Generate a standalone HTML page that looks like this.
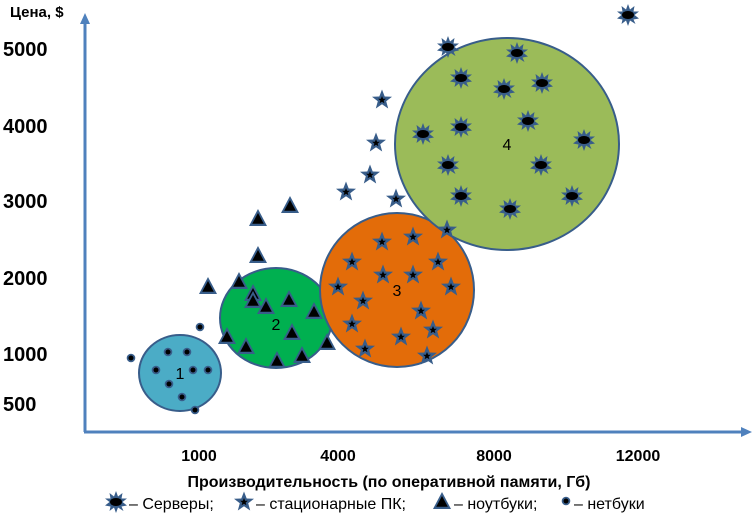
<!DOCTYPE html>
<html><head><meta charset="utf-8"><style>
body{margin:0;background:#fff}
svg{display:block}
text{font-family:"Liberation Sans",sans-serif}
</style></head><body>
<svg width="752" height="518" viewBox="0 0 752 518" xmlns="http://www.w3.org/2000/svg">
<defs>
<g id="srv"><polygon points="0,-11 2,-5.5 6.5,-9 5.5,-3.5 11,-3.5 6.5,0 11,3.5 5.5,4.5 7.5,9 2,5.5 0,11 -2,5.5 -6.5,9 -5.5,4.5 -11,3.5 -6.5,0 -11,-3.5 -5.5,-3.5 -6.5,-9 -2,-5.5" fill="#385d8a"/><ellipse rx="6" ry="4" fill="#000"/></g>
<g id="star"><polygon points="0,-10.5 2.7,-3.5 10,-3.3 4.2,1.3 6.2,8.5 0,4.3 -6.2,8.5 -4.2,1.3 -10,-3.3 -2.7,-3.5" fill="#385d8a"/><polygon points="0,-4 1.1,-1.2 3.9,-1.2 1.6,0.6 2.4,3.3 0,1.7 -2.4,3.3 -1.6,0.6 -3.9,-1.2 -1.1,-1.2" fill="#000"/></g>
<g id="tri"><polygon points="0,-10 9,7 -9,7" fill="#385d8a"/><polygon points="0,-6 5.8,4.8 -5.8,4.8" fill="#000"/></g>
<g id="dot"><circle r="4.3" fill="#385d8a"/><circle r="2.5" fill="#000"/></g>
</defs>
<line x1="85" y1="432" x2="85" y2="22" stroke="#4f81bd" stroke-width="3"/>
<polygon points="85,13 80,24 90,24" fill="#4f81bd"/>
<line x1="84" y1="432" x2="742" y2="432" stroke="#4f81bd" stroke-width="3"/>
<polygon points="752,432 741,427 741,437" fill="#4f81bd"/>
<text x="10" y="17" font-size="15" font-weight="bold">Цена, $</text>
<g font-size="20" font-weight="bold">
<text x="3" y="56">5000</text><text x="3" y="133">4000</text><text x="3" y="208">3000</text>
<text x="3" y="285">2000</text><text x="3" y="361">1000</text><text x="3" y="411">500</text>
</g>
<g font-size="16" font-weight="bold" text-anchor="middle">
<text x="199" y="461">1000</text><text x="338" y="461">4000</text><text x="494" y="461">8000</text><text x="638" y="461">12000</text>
<text x="389" y="487">Производительность (по оперативной памяти, Гб)</text>
</g>
<ellipse cx="180" cy="373" rx="41" ry="38" fill="#4bacc6" stroke="#385d8a" stroke-width="2"/>
<ellipse cx="276" cy="318" rx="56" ry="50" fill="#00b050" stroke="#385d8a" stroke-width="2"/>
<ellipse cx="397" cy="290" rx="77" ry="77" fill="#e36c09" stroke="#385d8a" stroke-width="2"/>
<ellipse cx="507" cy="144" rx="112" ry="106" fill="#9bbb59" stroke="#385d8a" stroke-width="2"/>
<g font-size="16" text-anchor="middle">
<text x="180" y="379">1</text><text x="276" y="330">2</text><text x="397" y="296">3</text><text x="507" y="150">4</text>
</g>
<use href="#dot" x="131" y="358"/><use href="#dot" x="168" y="352"/><use href="#dot" x="187" y="352"/>
<use href="#dot" x="156" y="370"/><use href="#dot" x="193" y="370"/><use href="#dot" x="208" y="370"/>
<use href="#dot" x="169" y="384"/><use href="#dot" x="182" y="397"/><use href="#dot" x="195" y="410"/>
<use href="#dot" x="200" y="327"/>
<use href="#tri" x="258" y="219"/><use href="#tri" x="290" y="206"/><use href="#tri" x="258" y="256"/>
<use href="#tri" x="208" y="287"/><use href="#tri" x="239" y="282"/><use href="#tri" x="253" y="294"/>
<use href="#tri" x="253" y="301"/><use href="#tri" x="266" y="307"/><use href="#tri" x="289" y="300"/>
<use href="#tri" x="314" y="312"/><use href="#tri" x="292" y="333"/><use href="#tri" x="227" y="337"/>
<use href="#tri" x="246" y="347"/><use href="#tri" x="277" y="361"/><use href="#tri" x="302" y="356"/>
<use href="#tri" x="327" y="343"/>
<use href="#star" x="382" y="100"/><use href="#star" x="376" y="143"/><use href="#star" x="370" y="175"/>
<use href="#star" x="346" y="192"/><use href="#star" x="396" y="199"/><use href="#star" x="447" y="230"/>
<use href="#star" x="382" y="242"/><use href="#star" x="413" y="237"/>
<use href="#star" x="352" y="262"/><use href="#star" x="383" y="275"/><use href="#star" x="413" y="275"/>
<use href="#star" x="438" y="262"/><use href="#star" x="338" y="287"/><use href="#star" x="451" y="287"/>
<use href="#star" x="363" y="301"/><use href="#star" x="421" y="311"/><use href="#star" x="352" y="324"/>
<use href="#star" x="433" y="330"/><use href="#star" x="401" y="337"/><use href="#star" x="365" y="349"/>
<use href="#star" x="427" y="356"/>
<use href="#srv" x="628" y="15"/><use href="#srv" x="448" y="47"/><use href="#srv" x="517" y="53"/>
<use href="#srv" x="461" y="78"/><use href="#srv" x="504" y="89"/><use href="#srv" x="542" y="83"/>
<use href="#srv" x="528" y="121"/><use href="#srv" x="423" y="134"/><use href="#srv" x="461" y="127"/>
<use href="#srv" x="584" y="140"/><use href="#srv" x="448" y="165"/><use href="#srv" x="541" y="165"/>
<use href="#srv" x="461" y="196"/><use href="#srv" x="510" y="209"/><use href="#srv" x="572" y="196"/>
<use href="#srv" x="116" y="502"/>
<text x="129" y="509" font-size="16">– Серверы;</text>
<use href="#star" x="244" y="502"/>
<text x="256" y="509" font-size="16">– стационарные ПК;</text>
<use href="#tri" x="442" y="502"/>
<text x="454" y="509" font-size="16">– ноутбуки;</text>
<use href="#dot" x="566" y="501"/>
<text x="574" y="509" font-size="16">– нетбуки</text>
</svg>
</body></html>
